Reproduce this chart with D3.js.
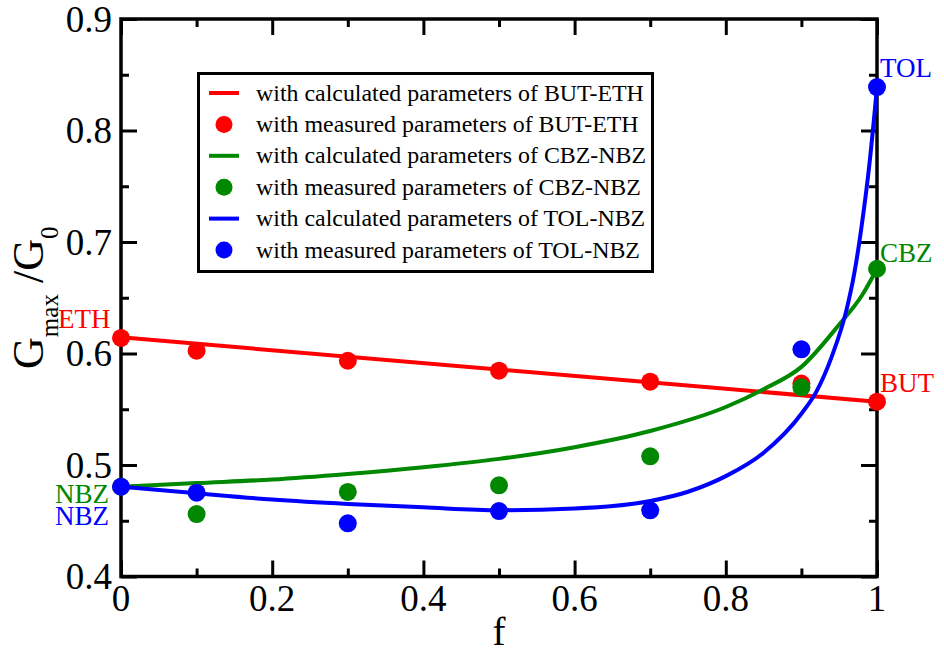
<!DOCTYPE html>
<html>
<head>
<meta charset="utf-8">
<script src="https://cdn.jsdelivr.net/npm/d3@7"></script>
<style>
  html, body { margin: 0; padding: 0; background: #fff; }
</style>
</head>
<body>
<div id="chart"></div>
<script>
// measured points (same f for all three systems)
const fMeasured = [0, 0.1, 0.3, 0.5, 0.7, 0.9, 1.0];
const butEthMeasured = [0.614, 0.6025, 0.5935, 0.5846, 0.5747, 0.573, 0.5568];
const cbzNbzMeasured = [0.4805, 0.456, 0.4758, 0.4818, 0.5078, 0.5697, 0.676];
const tolNbzMeasured = [0.4805, 0.4752, 0.4477, 0.4587, 0.4594, 0.6038, 0.839];

// calculated curves
const butEthCalcF = [0, 1];
const butEthCalc = [0.6145, 0.5568];
const cbzNbzCalcF = [0, 0.1, 0.2, 0.3, 0.4, 0.5, 0.6, 0.7, 0.8, 0.85, 0.9, 0.95, 0.98, 1.0];
const cbzNbzCalc = [0.4805, 0.4838, 0.487, 0.492, 0.498, 0.5055, 0.516, 0.5305, 0.552, 0.568, 0.588, 0.626, 0.652, 0.676];
const tolNbzCalcF = [0, 0.1, 0.2, 0.3, 0.4, 0.5, 0.6, 0.7, 0.75, 0.8, 0.85, 0.9, 0.92, 0.94, 0.96, 0.97, 0.98, 0.99, 1.0];
const tolNbzCalc = [0.4805, 0.4746, 0.469, 0.465, 0.462, 0.4595, 0.461, 0.4677, 0.476, 0.49, 0.511, 0.546, 0.566, 0.597, 0.64, 0.672, 0.716, 0.77, 0.839];

const xTicks = [0, 0.2, 0.4, 0.6, 0.8, 1];
const xMinorTicks = [0.1, 0.3, 0.5, 0.7, 0.9];
const yTicks = [0.4, 0.5, 0.6, 0.7, 0.8, 0.9];
const yMinorTicks = [0.45, 0.55, 0.65, 0.75, 0.85];

const legendLabels = [
  "with calculated parameters of BUT-ETH",
  "with measured parameters of BUT-ETH",
  "with calculated parameters of CBZ-NBZ",
  "with measured parameters of CBZ-NBZ",
  "with calculated parameters of TOL-NBZ",
  "with measured parameters of TOL-NBZ"
];

const colors = { red: "#ff0000", green: "#008800", blue: "#0000ff" };
const serif = "\"Liberation Serif\"";

const W = 944, H = 653;
const margin = { top: 19, right: 67, bottom: 76.5, left: 121 };
const width = W - margin.left - margin.right;
const height = H - margin.top - margin.bottom;

const svg = d3.select("#chart").append("svg")
  .attr("width", W)
  .attr("height", H);

const g = svg.append("g")
  .attr("transform", `translate(${margin.left},${margin.top})`);

const x = d3.scaleLinear().domain([0, 1]).range([0, width]);
const y = d3.scaleLinear().domain([0.4, 0.9]).range([height, 0]);

// ticks pointing inward on all four sides
function tickAxis(axisFn, scale, values, size, transform) {
  const a = g.append("g")
    .attr("transform", transform)
    .call(axisFn(scale).tickValues(values).tickSize(size).tickFormat(""));
  a.select(".domain").remove();
  a.selectAll("text").remove();
  a.selectAll("line").attr("stroke", "#000").attr("stroke-width", 3);
  return a;
}
tickAxis(d3.axisTop, x, xTicks, 16, `translate(0,${height})`);
tickAxis(d3.axisTop, x, xMinorTicks, 8, `translate(0,${height})`);
tickAxis(d3.axisBottom, x, xTicks, 16, "translate(0,0)");
tickAxis(d3.axisBottom, x, xMinorTicks, 8, "translate(0,0)");
tickAxis(d3.axisRight, y, yTicks, 16, "translate(0,0)");
tickAxis(d3.axisRight, y, yMinorTicks, 8, "translate(0,0)");
tickAxis(d3.axisLeft, y, yTicks, 16, `translate(${width},0)`);
tickAxis(d3.axisLeft, y, yMinorTicks, 8, `translate(${width},0)`);

// tick labels
g.selectAll(".xlab")
  .data(xTicks)
  .enter().append("text")
  .attr("class", "xlab")
  .attr("x", d => x(d))
  .attr("y", height + 34)
  .attr("text-anchor", "middle")
  .style("font-family", serif)
  .style("font-size", "37px")
  .text(d => d3.format("~g")(d));

g.selectAll(".ylab")
  .data(yTicks)
  .enter().append("text")
  .attr("class", "ylab")
  .attr("x", -9)
  .attr("y", d => y(d) + 12.5)
  .attr("text-anchor", "end")
  .style("font-family", serif)
  .style("font-size", "37px")
  .text(d => d3.format(".1f")(d));

// frame
g.append("rect")
  .attr("width", width)
  .attr("height", height)
  .attr("fill", "none")
  .attr("stroke", "#000")
  .attr("stroke-width", 3.5);

// axis titles
svg.append("text")
  .attr("x", margin.left + width / 2)
  .attr("y", 645)
  .attr("text-anchor", "middle")
  .style("font-family", serif)
  .style("font-size", "39px")
  .text("f");

const yTitle = svg.append("text")
  .attr("transform", `translate(43,${margin.top + height / 2}) rotate(-90)`)
  .attr("text-anchor", "middle")
  .style("font-family", serif)
  .style("font-size", "44px");
yTitle.append("tspan").text("G");
yTitle.append("tspan").attr("dy", 15).style("font-size", "25px").text("max");
yTitle.append("tspan").attr("dy", -15).text(" /G");
yTitle.append("tspan").attr("dy", 15).style("font-size", "25px").text("0");

// series
const line = d3.line()
  .x(d => x(d[0]))
  .y(d => y(d[1]))
  .curve(d3.curveMonotoneX);

const series = [
  { color: colors.red, cf: butEthCalcF, cv: butEthCalc, mv: butEthMeasured },
  { color: colors.green, cf: cbzNbzCalcF, cv: cbzNbzCalc, mv: cbzNbzMeasured },
  { color: colors.blue, cf: tolNbzCalcF, cv: tolNbzCalc, mv: tolNbzMeasured }
];

series.forEach(s => {
  g.append("path")
    .datum(d3.zip(s.cf, s.cv))
    .attr("fill", "none")
    .attr("stroke", s.color)
    .attr("stroke-width", 4)
    .attr("d", line);
  g.selectAll(null)
    .data(d3.zip(fMeasured, s.mv))
    .enter().append("circle")
    .attr("cx", d => x(d[0]))
    .attr("cy", d => y(d[1]))
    .attr("r", 9)
    .attr("fill", s.color);
});

// end labels
const endLabels = [
  { text: "ETH", color: colors.red, x: 58, y: 328 },
  { text: "NBZ", color: colors.green, x: 55, y: 503 },
  { text: "NBZ", color: colors.blue, x: 55, y: 525 },
  { text: "TOL", color: colors.blue, x: 880, y: 77 },
  { text: "CBZ", color: colors.green, x: 880, y: 262 },
  { text: "BUT", color: colors.red, x: 880, y: 392 }
];
svg.selectAll(".endlab")
  .data(endLabels)
  .enter().append("text")
  .attr("class", "endlab")
  .attr("x", d => d.x)
  .attr("y", d => d.y)
  .attr("fill", d => d.color)
  .style("font-family", serif)
  .style("font-size", "27px")
  .text(d => d.text);

// legend
const legend = svg.append("g");
legend.append("rect")
  .attr("x", 198.5)
  .attr("y", 73.5)
  .attr("width", 454)
  .attr("height", 198)
  .attr("fill", "#fff")
  .attr("stroke", "#000")
  .attr("stroke-width", 3);

const legendColors = [colors.red, colors.red, colors.green, colors.green, colors.blue, colors.blue];
const rowY = i => 93 + i * 31.4;

legend.selectAll(".legtext")
  .data(legendLabels)
  .enter().append("text")
  .attr("class", "legtext")
  .attr("x", 256)
  .attr("y", (d, i) => rowY(i) + 7.5)
  .style("font-family", serif)
  .style("font-size", "23.9px")
  .text(d => d);

legendLabels.forEach((d, i) => {
  if (i % 2 === 0) {
    legend.append("line")
      .attr("x1", 209).attr("x2", 239)
      .attr("y1", rowY(i)).attr("y2", rowY(i))
      .attr("stroke", legendColors[i])
      .attr("stroke-width", 4);
  } else {
    legend.append("circle")
      .attr("cx", 224).attr("cy", rowY(i))
      .attr("r", 8.5)
      .attr("fill", legendColors[i]);
  }
});
</script>
</body>
</html>
